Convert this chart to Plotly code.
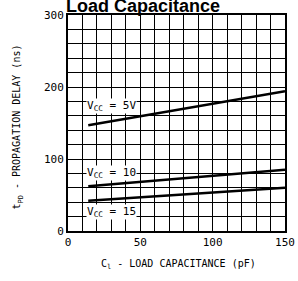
import plotly.graph_objects as go

cap_pf = [14, 150]
delay_5v = [147, 194]
delay_10v = [62, 85]
delay_15v = [42, 60]

series_labels = ["V<sub>CC</sub> = 5V", "V<sub>CC</sub> = 10", "V<sub>CC</sub> = 15"]
label_x = [30, 30, 30]
label_y = [173, 80, 27]

x_ticks = [0, 50, 100, 150]
y_ticks = [0, 100, 200, 300]

MONO = "DejaVu Sans Mono, monospace"

fig = go.Figure()
for ys in (delay_5v, delay_10v, delay_15v):
    fig.add_trace(go.Scatter(x=cap_pf, y=ys, mode="lines",
                             line=dict(color="black", width=2.5),
                             showlegend=False, hoverinfo="skip"))

for t, lx, ly in zip(series_labels, label_x, label_y):
    fig.add_annotation(x=lx, y=ly, text=t, showarrow=False,
                       bgcolor="white", font=dict(size=11, color="black", family=MONO),
                       borderpad=0)

fig.add_annotation(xref="paper", yref="paper", x=0.345, y=1.0, yshift=-3,
                   xanchor="center",
                   text="<b>Load Capacitance</b>", showarrow=False,
                   yanchor="bottom", font=dict(size=18, family="Liberation Sans, Arial", color="black"))

fig.add_annotation(xref="paper", yref="paper", x=0, xshift=-50, y=0.479,
                   xanchor="center", yanchor="middle",
                   text="t<sub>PD</sub> - PROPAGATION DELAY (ns)", textangle=-90,
                   showarrow=False, font=dict(size=10, family=MONO, color="black"))
fig.add_annotation(xref="paper", yref="paper", x=0.51, y=0, yshift=-33,
                   xanchor="center", yanchor="middle",
                   text="C<sub>l</sub> - LOAD CAPACITANCE (pF)",
                   showarrow=False, font=dict(size=10, family=MONO, color="black"))

fig.update_xaxes(range=[0, 150], tickvals=x_ticks, ticks="", showgrid=True,
                 gridcolor="black", gridwidth=1, automargin=False,
                 showline=True, linecolor="black", linewidth=2, mirror=True,
                 zeroline=False, tickfont=dict(size=11, family=MONO, color="black"))
fig.update_xaxes(minor=dict(dtick=10, tick0=0, showgrid=True, gridcolor="black", gridwidth=1))
fig.update_yaxes(range=[0, 300], tickvals=y_ticks, ticks="", showgrid=True,
                 gridcolor="black", gridwidth=1, automargin=False,
                 showline=True, linecolor="black", linewidth=2, mirror=True,
                 zeroline=False, tickfont=dict(size=11, family=MONO, color="black"))
fig.update_yaxes(minor=dict(dtick=20, tick0=0, showgrid=True, gridcolor="black", gridwidth=1))

fig.update_layout(width=298, height=281,
                  margin=dict(l=68, r=13, t=15, b=50, autoexpand=False),
                  plot_bgcolor="white", paper_bgcolor="white")
fig.write_html("out.html", config={"displayModeBar": False},
               post_script="document.body.style.margin='0';document.body.style.overflow='hidden';")
